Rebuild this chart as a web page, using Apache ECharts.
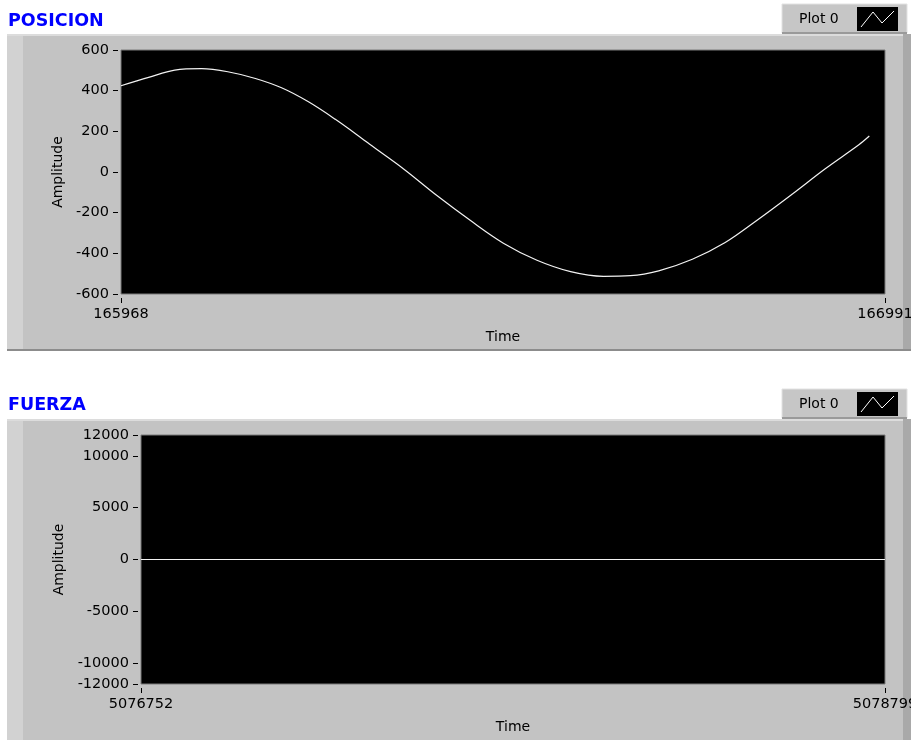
<!DOCTYPE html>
<html>
<head>
<meta charset="utf-8">
<script src="https://cdn.jsdelivr.net/npm/echarts@6/dist/echarts.min.js"></script>
<style>
html,body{margin:0;padding:0;background:#fff;}
#c{width:911px;height:740px;}
</style>
</head>
<body>
<div id="c"></div>
<script>
// ---- Data ----
const posTime = [165968, 166005, 166040, 166076, 166111, 166148, 166183, 166219, 166255, 166291, 166301,
  166346, 166391, 166436, 166480, 166525, 166570, 166614, 166650, 166688, 166733, 166777, 166822,
  166867, 166911, 166956, 166970];
const posValue = [424, 465, 501, 508, 493, 460, 414, 345, 259, 164, 136,
  16, -116, -239, -350, -434, -490, -513, -510, -486, -429, -347, -231,
  -108, 16, 134, 177];
const posXTicks = [165968, 166991];
const posYTicks = [-600, -400, -200, 0, 200, 400, 600];

const fzaTime = [5076752, 5077200, 5077700, 5078200, 5078799];
const fzaValue = [0, 0, 0, 0, 0];
const fzaXTicks = [5076752, 5078799];
const fzaYTicks = [-12000, -10000, -5000, 0, 5000, 10000, 12000];

const titles = ['POSICION', 'FUERZA'];
const legendName = 'Plot 0';

// ---- Chart ----
const FONT = 'DejaVu Sans';
const FS = 14.5;
const chart = echarts.init(document.getElementById('c'), null, {renderer: 'canvas'});

function panel(top, height) {
  return [
    {type: 'rect', shape: {x: 7, y: top, width: 904, height: height}, style: {fill: '#c3c3c3'}, z: -10},
    {type: 'rect', shape: {x: 7, y: top, width: 16, height: height}, style: {fill: '#d2d2d2'}, z: -9},
    {type: 'rect', shape: {x: 7, y: top, width: 904, height: 2}, style: {fill: '#dcdcdc'}, z: -9},
    {type: 'rect', shape: {x: 903, y: top, width: 8, height: height}, style: {fill: '#a9a9a9'}, z: -9},
    {type: 'rect', shape: {x: 7, y: top + height - 2, width: 904, height: 2}, style: {fill: '#8c8c8c'}, z: -9}
  ];
}
function legendBox(top) {
  return [
    {type: 'rect', shape: {x: 782, y: top, width: 125, height: 29}, style: {fill: '#c6c6c6', stroke: '#e2e2e2', lineWidth: 1}, z: -8},
    {type: 'rect', shape: {x: 782, y: top + 28, width: 125, height: 2}, style: {fill: '#9a9a9a'}, z: -8},
    {type: 'text', style: {text: legendName, x: 799, y: top + 15, font: '14px ' + FONT, fill: '#000', verticalAlign: 'middle'}},
    {type: 'rect', shape: {x: 857, y: top + 3, width: 41, height: 24}, style: {fill: '#000'}},
    {type: 'polyline', shape: {points: [[861, top + 23], [873, top + 8], [882, top + 19], [894, top + 7]]}, style: {stroke: '#fff', lineWidth: 1, fill: null}}
  ];
}

const graphics = [].concat(
  panel(34, 317),
  panel(419, 330),
  legendBox(4),
  legendBox(389),
  [
    {type: 'text', style: {text: titles[0], x: 8, y: 21, font: 'bold 17.5px ' + FONT, fill: '#0000ff', verticalAlign: 'middle'}},
    {type: 'text', style: {text: titles[1], x: 8, y: 405, font: 'bold 17.5px ' + FONT, fill: '#0000ff', verticalAlign: 'middle'}}
  ]
);

const lblStyle = {color: '#000', fontFamily: FONT, fontSize: FS, formatter: v => String(v)};

function yAxis(idx, min, max, ticks, gap) {
  return {
    type: 'value', gridIndex: idx, min: min, max: max, offset: 3,
    name: 'Amplitude', nameLocation: 'middle', nameGap: gap,
    nameTextStyle: {color: '#000', fontFamily: FONT, fontSize: 14},
    axisLine: {show: false, onZero: false},
    axisTick: {show: true, length: 5, lineStyle: {color: '#000'}, customValues: ticks},
    axisLabel: Object.assign({margin: 9, customValues: ticks}, lblStyle),
    splitLine: {show: false}
  };
}
function xAxis(idx, min, max, ticks) {
  return {
    type: 'value', gridIndex: idx, min: min, max: max, offset: 4,
    name: 'Time', nameLocation: 'middle', nameGap: 32,
    nameTextStyle: {color: '#000', fontFamily: FONT, fontSize: 14},
    axisLine: {show: false, onZero: false},
    axisTick: {show: true, length: 5, lineStyle: {color: '#000'}, customValues: ticks},
    axisLabel: Object.assign({margin: 9, customValues: ticks, showMinLabel: true, showMaxLabel: true, hideOverlap: false}, lblStyle),
    splitLine: {show: false}
  };
}

chart.setOption({
  animation: false,
  backgroundColor: '#fff',
  graphic: graphics,
  grid: [
    {left: 121, top: 50, width: 764, height: 244, show: true, backgroundColor: '#000', borderColor: '#7a7a7a', borderWidth: 1, outerBoundsMode: 'none', containLabel: false},
    {left: 141, top: 435, width: 744, height: 249, show: true, backgroundColor: '#000', borderColor: '#7a7a7a', borderWidth: 1, outerBoundsMode: 'none', containLabel: false}
  ],
  xAxis: [
    xAxis(0, posXTicks[0], posXTicks[1], posXTicks),
    xAxis(1, fzaXTicks[0], fzaXTicks[1], fzaXTicks)
  ],
  yAxis: [
    yAxis(0, posYTicks[0], posYTicks[posYTicks.length - 1], posYTicks, 46),
    yAxis(1, fzaYTicks[0], fzaYTicks[fzaYTicks.length - 1], fzaYTicks, 63)
  ],
  series: [
    {type: 'line', xAxisIndex: 0, yAxisIndex: 0, data: posTime.map((t, i) => [t, posValue[i]]),
      smooth: 0.35, showSymbol: false, lineStyle: {color: '#f2f2f2', width: 1.2}},
    {type: 'line', xAxisIndex: 1, yAxisIndex: 1, data: fzaTime.map((t, i) => [t, fzaValue[i]]),
      showSymbol: false, lineStyle: {color: '#f2f2f2', width: 1.2}}
  ]
});
</script>
</body>
</html>
